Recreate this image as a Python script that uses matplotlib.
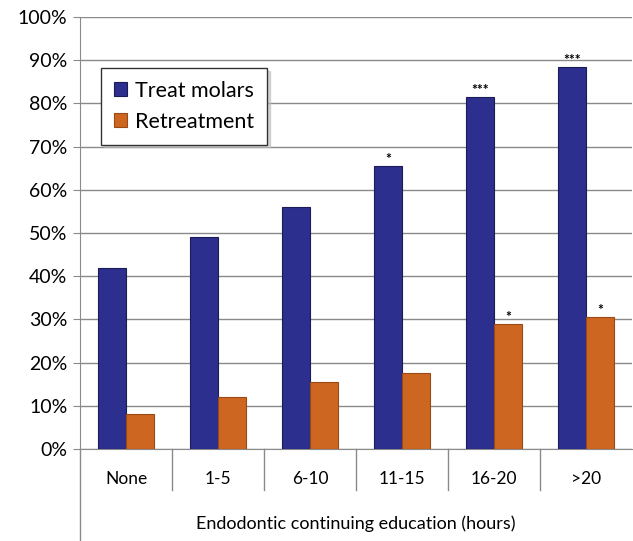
# bar chart: share treating molars / doing retreatment by hours of endodontic CE
import matplotlib.pyplot as plt
import numpy as np

categories = ["None", "1-5", "6-10", "11-15", "16-20", ">20"]
treat_molars = [42, 49, 56, 65.5, 81.5, 88.5]
retreatment = [8, 12, 15.5, 17.5, 29, 30.5]
molar_marks = ["", "", "", "*", "***", "***"]
retreat_marks = ["", "", "", "", "*", "*"]

plt.rcParams["font.family"] = ["Lato", "DejaVu Sans"]

fig = plt.figure(figsize=(6.33, 5.41), dpi=100)
ax = fig.add_axes([0.1264, 0.170, 0.872, 0.7986])

x = np.arange(len(categories))
w = 0.30
blue = "#2c2f8e"
orange = "#cc6621"
ax.bar(x - w / 2, treat_molars, w, color=blue, edgecolor="#1a1c55",
       linewidth=0.8, label="Treat molars", zorder=3)
ax.bar(x + w / 2, retreatment, w, color=orange, edgecolor="#9a4a15",
       linewidth=0.8, label="Retreatment", zorder=3)

# significance marks
for i in range(len(categories)):
    if molar_marks[i]:
        ax.text(x[i] - w / 2, treat_molars[i] + 0.2, molar_marks[i],
                ha="center", va="bottom", fontsize=10, fontweight="bold")
    if retreat_marks[i]:
        ax.text(x[i] + w / 2, retreatment[i] + 0.2, retreat_marks[i],
                ha="center", va="bottom", fontsize=10, fontweight="bold")

ax.set_xlim(-0.5, len(categories) - 0.5)
ax.set_ylim(0, 100)
ax.set_yticks(range(0, 101, 10))
ax.set_yticklabels([f"{v}%" for v in range(0, 101, 10)], fontsize=14)
ax.yaxis.grid(True, color="#8a8a8a", linewidth=1.0, zorder=0)
ax.tick_params(axis="y", length=5, color="#8a8a8a", pad=4)

ax.set_xticks([])
for s in ["top", "right"]:
    ax.spines[s].set_visible(False)
ax.spines["bottom"].set_color("#8a8a8a")
ax.spines["left"].set_color("#8a8a8a")

# category table under the axis (Excel style)
for b in np.arange(0.5, len(categories) - 0.5, 1):
    ax.plot([b, b], [0, -9.5], color="#8a8a8a", linewidth=1, clip_on=False)
ax.plot([-0.5, -0.5], [0, -21.5], color="#8a8a8a", linewidth=1, clip_on=False)
for i, c in enumerate(categories):
    ax.text(x[i], -7, c, ha="center", va="center", fontsize=12.5)
ax.text(np.mean(x), -17.3, "Endodontic continuing education (hours)",
        ha="center", va="center", fontsize=13)

leg = ax.legend(loc="upper left", bbox_to_anchor=(0.038, 0.882), fontsize=15.5,
                frameon=True, fancybox=False, borderaxespad=0,
                shadow={"color": "#bbbbbb", "alpha": 0.6},
                handlelength=0.6, handleheight=0.6, handletextpad=0.4,
                borderpad=0.6, labelspacing=0.5)
leg.get_frame().set_edgecolor("#333333")
leg.get_frame().set_linewidth(1)

fig.savefig("out.png", dpi=100, facecolor="white")
